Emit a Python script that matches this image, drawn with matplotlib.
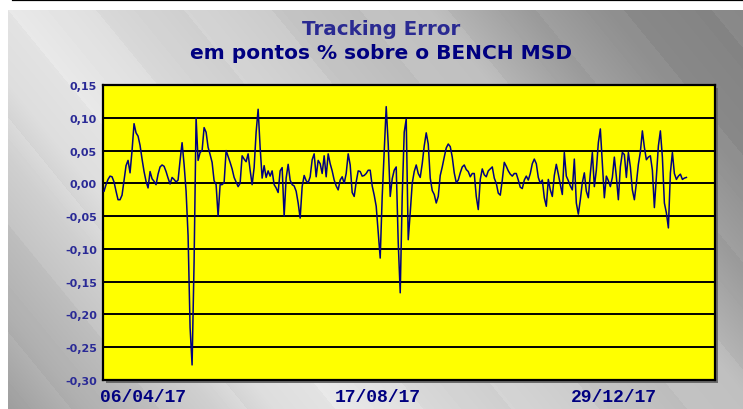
import numpy as np
import pandas as pd
import matplotlib
matplotlib.use('Agg')
import matplotlib.pyplot as plt
from matplotlib.lines import Line2D
from matplotlib.patches import Rectangle

# chart texts
title_top = "Tracking Error"
title_sub = "em pontos % sobre o BENCH MSD"

y_ticks = [0.15, 0.10, 0.05, 0.00, -0.05, -0.10, -0.15, -0.20, -0.25, -0.30]
y_tick_labels = ["0,15", "0,10", "0,05", "0,00", "-0,05", "-0,10", "-0,15", "-0,20", "-0,25", "-0,30"]
x_tick_dates = ["2017-04-06", "2017-08-17", "2017-12-29"]
x_tick_labels = ["06/04/17", "17/08/17", "29/12/17"]
x_limits = ["2017-03-14 10:00", "2018-02-24 05:00"]

first_date = "2017-03-15"
last_date = "2018-02-08"

# tracking error (left to right)
te_values = [
    -0.012, -0.002, 0.006, 0.011, 0.010, 0.002, -0.012, -0.025, -0.025, -0.018,
    0.004, 0.027, 0.035, 0.016, 0.050, 0.091, 0.077, 0.072, 0.058, 0.037,
    0.018, 0.003, -0.007, 0.018, 0.007, 0.003, -0.002, 0.014, 0.025, 0.028,
    0.026, 0.018, 0.008, -0.001, 0.009, 0.006, 0.002, 0.005, 0.035, 0.062,
    0.029, -0.012, -0.080, -0.220, -0.277, -0.120, 0.100, 0.035, 0.047, 0.050,
    0.085, 0.078, 0.055, 0.044, 0.032, 0.004, -0.002, -0.050, -0.002, -0.002,
    0.001, 0.050, 0.041, 0.032, 0.022, 0.009, 0.002, -0.005, 0.000, 0.042,
    0.037, 0.033, 0.045, 0.020, -0.002, 0.024, 0.078, 0.113, 0.055, 0.008,
    0.027, 0.009, 0.019, 0.011, 0.019, -0.002, -0.007, -0.014, 0.019, 0.024,
    -0.050, 0.008, 0.029, 0.005, -0.002, -0.004, -0.012, -0.030, -0.053, -0.005,
    0.012, 0.004, 0.001, 0.010, 0.036, 0.045, 0.010, 0.035, 0.030, 0.015,
    0.042, 0.010, 0.045, 0.030, 0.019, 0.005, -0.004, -0.010, 0.005, 0.010,
    0.000, 0.015, 0.045, 0.028, -0.014, -0.020, 0.002, 0.019, 0.018, 0.011,
    0.012, 0.015, 0.020, 0.020, -0.004, -0.018, -0.035, -0.075, -0.114, -0.020,
    0.050, 0.117, 0.060, -0.020, 0.007, 0.020, 0.025, -0.090, -0.167, -0.020,
    0.078, 0.098, -0.086, -0.045, 0.000, 0.018, 0.028, 0.015, 0.009, 0.030,
    0.057, 0.077, 0.060, 0.008, -0.011, -0.017, -0.030, -0.020, 0.012, 0.025,
    0.040, 0.054, 0.060, 0.056, 0.040, 0.016, 0.001, 0.005, 0.016, 0.025,
    0.028, 0.021, 0.018, 0.010, 0.015, 0.015, -0.020, -0.040, 0.006, 0.022,
    0.013, 0.010, 0.019, 0.022, 0.025, 0.008, 0.000, -0.015, -0.018, 0.005,
    0.032, 0.026, 0.019, 0.014, 0.011, 0.015, 0.015, 0.005, -0.006, -0.008,
    0.005, 0.011, 0.005, 0.015, 0.030, 0.037, 0.030, 0.009, 0.000, 0.005,
    -0.022, -0.035, 0.006, -0.010, -0.020, 0.012, 0.029, 0.014, -0.002, -0.017,
    0.047, 0.011, 0.004, -0.004, -0.010, 0.037, -0.030, -0.047, -0.025, 0.001,
    0.016, -0.012, -0.022, 0.015, 0.047, -0.005, 0.020, 0.062, 0.083, 0.030,
    -0.022, 0.011, 0.004, -0.005, 0.009, 0.040, 0.010, -0.025, 0.025, 0.047,
    0.044, 0.009, 0.047, 0.025, -0.010, -0.025, 0.000, 0.029, 0.048, 0.080,
    0.055, 0.036, 0.040, 0.042, 0.020, -0.037, 0.010, 0.057, 0.080, 0.040,
    -0.030, -0.045, -0.068, 0.016, 0.047, 0.015, 0.006, 0.011, 0.014, 0.006,
    0.008, 0.009,
]

dates = pd.date_range(first_date, last_date, periods=len(te_values))

W, H = 743, 410
fig = plt.figure(figsize=(W / 100, H / 100), dpi=100)
fig.patch.set_facecolor('white')

# grey diagonal background panel, with faint stripes
bg = fig.add_axes([8 / W, 0, (W - 8) / W, (H - 11) / H], zorder=-2)
px, py = np.meshgrid(np.arange(W - 8), np.arange(H - 11))
u = px - 0.82 * py
shade = np.interp(u, [-330, -250, -120, -60, 0, 180, 350, 420, 520, 600, 740],
                  [0.60, 0.70, 0.80, 0.88, 0.90, 0.82, 0.75, 0.74, 0.62, 0.55, 0.52])
shade = shade + 0.012 * np.sign(np.sin(u / 28.0))
bg.imshow(shade, cmap='gray', vmin=0, vmax=1, aspect='auto', interpolation='nearest')
bg.axis('off')

# black rule at the very top
fig.add_artist(Line2D([13 / W, 1], [1 - 1 / H, 1 - 1 / H], color='black', lw=1.6))

# plot area
left, right, top, bottom = 103, 715, 86, 381
fig.add_artist(Rectangle(((left + 3) / W, (H - bottom - 3) / H), (right - left) / W, (bottom - top) / H,
                         transform=fig.transFigure, facecolor='#6a6a6a', edgecolor='none', zorder=-1))
ax = fig.add_axes([left / W, (H - bottom) / H, (right - left) / W, (bottom - top) / H])
ax.set_facecolor('#ffff00')

ax.plot(dates, te_values, color='#000080', lw=1.1, zorder=3)

ax.set_ylim(-0.30, 0.15)
ax.set_xlim(pd.to_datetime(x_limits[0]), pd.to_datetime(x_limits[1]))
ax.set_yticks(y_ticks)
ax.set_yticklabels(y_tick_labels, fontfamily='DejaVu Sans', fontweight='bold',
                   fontsize=8, color='#2a2a96')
ax.set_xticks(pd.to_datetime(x_tick_dates))
ax.set_xticklabels(x_tick_labels, fontfamily='Liberation Mono', fontweight='bold',
                   fontsize=13, color='#000080')
ax.tick_params(axis='y', length=0, pad=4.5)
ax.tick_params(axis='x', length=0, pad=6)
ax.yaxis.grid(True, color='black', lw=1.4)
ax.set_axisbelow(True)
for s in ax.spines.values():
    s.set_linewidth(1.6)
    s.set_color('black')

# titles
fig.text(381 / W, 1 - 35 / H, title_top, ha='center', va='baseline',
         fontfamily='DejaVu Sans', fontweight='bold', fontsize=14.3, color='#2a2a92')
fig.text(381 / W, 1 - 59 / H, title_sub, ha='center', va='baseline',
         fontfamily='DejaVu Sans', fontweight='bold', fontsize=14.5, color='#000080')

fig.savefig('out.png', dpi=100)
